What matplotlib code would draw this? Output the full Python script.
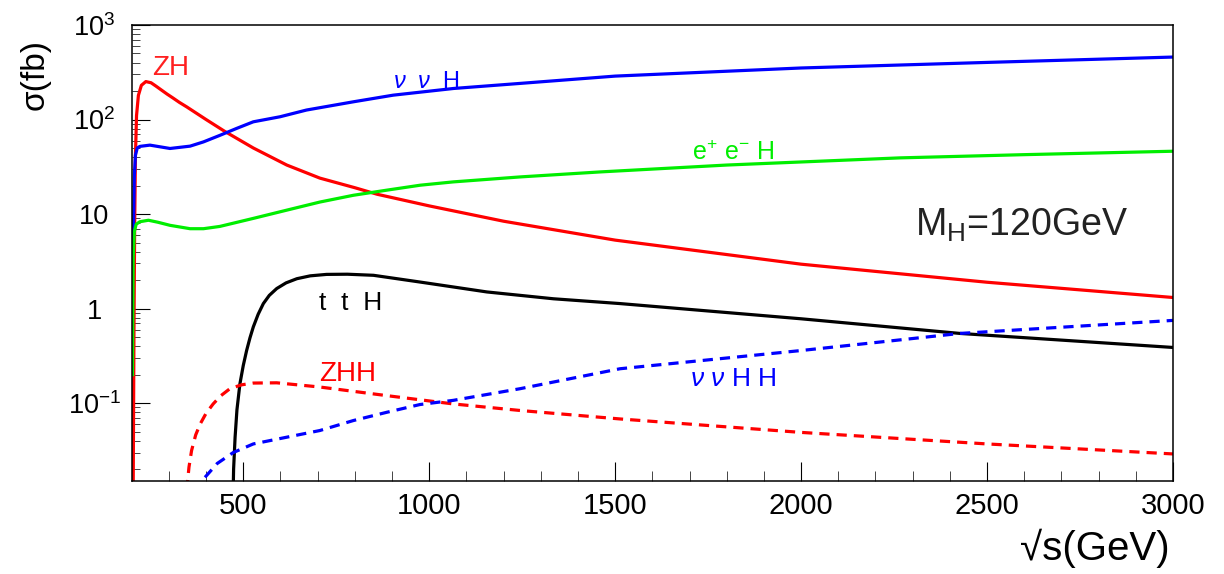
import matplotlib
matplotlib.use("Agg")
import matplotlib.pyplot as plt
from matplotlib.ticker import FixedLocator, MultipleLocator, LogLocator, NullFormatter

# Higgs production cross sections at e+e- linear collider, M_H = 120 GeV
# values (sqrt(s) in GeV, sigma in fb)
zh_E = [204, 206, 208, 210, 213, 218, 226, 238, 252, 265, 280, 295, 310, 328,
        348, 400, 450, 527, 617, 706, 800, 860, 1000, 1200, 1500, 2000, 2500,
        3000]
zh_sig = [0.012, 0.5, 8, 40, 110, 180, 230, 252, 245, 226, 205, 186, 170, 152,
          136, 100, 75, 50, 33, 24, 19, 16.2, 12.2, 8.4, 5.3, 2.95, 1.9, 1.31]

nnh_E = [202, 205, 207, 210, 215, 222, 249, 303, 357, 393, 437, 482, 527, 599,
         670, 796, 903, 1065, 1244, 1500, 2000, 2500, 3000]
nnh_sig = [3.5, 8, 25, 42, 50, 52, 53.6, 49.4, 52.3, 58, 68, 80.5, 94.6, 107,
           126, 154, 181, 213, 241, 288, 351, 402, 458]

eeh_E = [202, 203, 204, 207, 212, 222, 245, 270, 303, 357, 393, 437, 527, 617,
         706, 796, 886, 976, 1065, 1244, 1459, 1800, 2266, 2600, 3000]
eeh_sig = [0.2, 1.0, 3.5, 6.5, 7.8, 8.3, 8.6, 8.2, 7.6, 7.0, 7.0, 7.4, 9.0, 11.0,
           13.4, 15.8, 17.9, 20.2, 21.9, 24.7, 27.9, 33, 39.3, 42.5, 46.2]

tth_E = [471, 474, 478, 483, 491, 500, 509, 518, 527, 540, 554, 570, 590, 615,
         644, 680, 724, 780, 850, 975, 1155, 1334, 1513, 2000, 2427, 3000]
tth_sig = [0.005, 0.02, 0.0435, 0.085, 0.16, 0.25, 0.36, 0.49, 0.64, 0.87, 1.13,
           1.38, 1.63, 1.87, 2.07, 2.22, 2.30, 2.31, 2.25, 1.91, 1.50, 1.27,
           1.13, 0.78, 0.546, 0.388]

zhh_E = [348, 354, 361, 372, 384, 400, 419, 440, 464, 495, 527, 590, 706, 886,
         1065, 1244, 1513, 2000, 2500, 3000]
zhh_sig = [0.012, 0.021, 0.0315, 0.046, 0.060, 0.078, 0.098, 0.120, 0.142,
           0.156, 0.163, 0.164, 0.148, 0.120, 0.098, 0.0836, 0.068, 0.049,
           0.037, 0.029]

nnhh_E = [397, 430, 473, 527, 617, 706, 796, 886, 975, 1065, 1244, 1513, 2000,
          2427, 3000]
nnhh_sig = [0.0164, 0.023, 0.030, 0.037, 0.0436, 0.0513, 0.0654, 0.080, 0.0966,
            0.107, 0.142, 0.231, 0.36, 0.546, 0.75]

x_ticks = [500, 1000, 1500, 2000, 2500, 3000]
y_ticks = [0.1, 1, 10, 100, 1000]
y_tick_labels = [r"$10^{-1}$", "1", "10", r"$10^{2}$", r"$10^{3}$"]

plt.rcParams["font.family"] = ["Liberation Sans", "DejaVu Sans"]
plt.rcParams["mathtext.fontset"] = "custom"
plt.rcParams["mathtext.rm"] = "Liberation Sans"
plt.rcParams["mathtext.it"] = "Liberation Sans:italic"
plt.rcParams["mathtext.default"] = "regular"

W, H = 1224, 574
fig = plt.figure(figsize=(W / 100, H / 100), dpi=100)
ax = fig.add_axes([131.7 / W, 1 - 481 / H, (1173 - 131.7) / W, (481 - 25) / H])

lw = 2.3
dash = (0, (3.2, 2.2))
ax.plot(zh_E, zh_sig, color="#ff0000", lw=lw)
ax.plot(nnh_E, nnh_sig, color="#0000ff", lw=lw)
ax.plot(eeh_E, eeh_sig, color="#00ee00", lw=lw)
ax.plot(tth_E, tth_sig, color="black", lw=lw)
ax.plot(zhh_E, zhh_sig, color="#ff0000", lw=lw, linestyle=dash)
ax.plot(nnhh_E, nnhh_sig, color="#0000ff", lw=lw, linestyle=dash)

ax.set_yscale("log")
ax.set_xlim(200, 3000)
ax.set_ylim(0.015, 1000)

# ROOT-like ticks: inside, only bottom and left
ax.xaxis.set_major_locator(FixedLocator(x_ticks))
ax.xaxis.set_minor_locator(MultipleLocator(100))
ax.yaxis.set_major_locator(FixedLocator(y_ticks))
ax.yaxis.set_minor_locator(LogLocator(base=10, subs=range(2, 10)))
ax.yaxis.set_minor_formatter(NullFormatter())
ax.set_yticklabels(y_tick_labels)
ax.tick_params(axis="both", which="both", direction="in", top=False, right=False)
ax.tick_params(axis="x", which="major", length=14, width=0.8, labelsize=21, pad=8)
ax.tick_params(axis="x", which="minor", length=7, width=0.7, color="#444444")
ax.tick_params(axis="y", which="major", length=13, width=0.8, labelsize=19.5, pad=27)
ax.tick_params(axis="y", which="minor", length=6, width=0.7, color="#444444")
plt.setp(ax.get_yticklabels(), ha="center")
for s in ax.spines.values():
    s.set_linewidth(1.1)

# curve labels
nu = r"$\mathit{\nu}$"
ax.text(254, 295, "ZH", color="#ff2020", fontsize=20, ha="left", va="baseline")
ax.text(902, 215, nu + "  " + nu + "  H", color="#0000ff", fontsize=17,
        ha="left", va="baseline")
ax.text(1706, 37.2, r"e$^{+}$ e$^{-}$ H", color="#00ee00",
        fontsize=18, ha="left", va="baseline")
ax.text(704, 0.957, "t  t  H", color="black", fontsize=19, ha="left", va="baseline")
ax.text(704, 0.173, "ZHH", color="#ff0000", fontsize=20, ha="left", va="baseline")
ax.text(1702, 0.153, nu + " " + nu + " H H", color="#0000ff", fontsize=19,
        ha="left", va="baseline")
ax.text(2307, 5.96, r"M$_{\mathrm{H}}$=120GeV", color="#222222", fontsize=27,
        ha="left", va="baseline")

# axis titles placed like ROOT (at the ends of the axes)
fig.text(35 / W, 1 - 75 / H, "σ(fb)", rotation=90, fontsize=24, ha="center", va="center")
fig.text(1170 / W, 1 - 560 / H, "√s(GeV)", fontsize=29, ha="right", va="baseline")

fig.savefig("out.png", dpi=100)
